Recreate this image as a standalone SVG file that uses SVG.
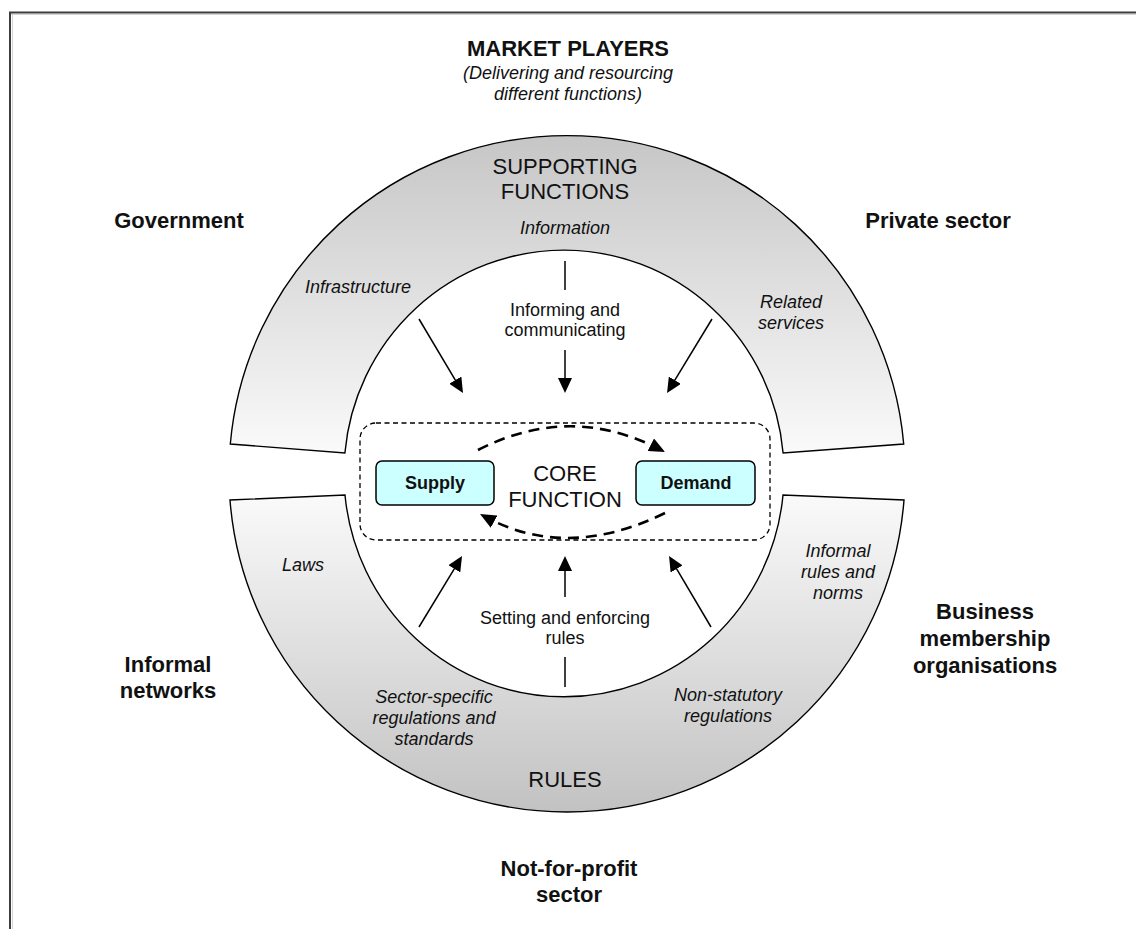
<svg xmlns="http://www.w3.org/2000/svg" width="1136" height="929" viewBox="0 0 1136 929">
<defs>
<style>
text{font-family:"Liberation Sans",Arial,sans-serif;fill:#111;text-anchor:middle}
.b{font-weight:bold;font-size:22px}
.h{font-size:22px}
.i{font-style:italic;font-size:18px}
.r{font-size:18px}
.bx{font-weight:bold;font-size:18px}
.ring{stroke:#000;stroke-width:1.4}
.arr{stroke:#000;stroke-width:1.5;fill:none;marker-end:url(#ah)}
.seg{stroke:#000;stroke-width:1.5}
.darr{stroke:#000;stroke-width:2.6;fill:none;stroke-dasharray:11 7;marker-end:url(#dh)}
</style>
<linearGradient id="gTop" x1="0" y1="0" x2="0" y2="1">
<stop offset="0" stop-color="#c6c6c6"/>
<stop offset="1" stop-color="#fafafa"/>
</linearGradient>
<linearGradient id="gBot" x1="0" y1="0" x2="0" y2="1">
<stop offset="0" stop-color="#fafafa"/>
<stop offset="1" stop-color="#c2c2c2"/>
</linearGradient>
<marker id="ah" markerUnits="userSpaceOnUse" markerWidth="16" markerHeight="14" refX="7" refY="7" orient="auto">
<path d="M0,0 L15,7 L0,14 Z" fill="#000"/>
</marker>
<marker id="dh" markerUnits="userSpaceOnUse" markerWidth="18" markerHeight="14" refX="10" refY="7" orient="auto">
<path d="M0,0 L16,7 L0,14 Z" fill="#000"/>
</marker>
</defs>
<rect width="1136" height="929" fill="#fff"/>
<g id="frame">
<line x1="9" y1="14.5" x2="1136" y2="14.5" stroke="#d4d4d4" stroke-width="1"/>
<line x1="12.5" y1="13" x2="12.5" y2="929" stroke="#d4d4d4" stroke-width="1"/>
<line x1="9" y1="12.5" x2="1136" y2="12.5" stroke="#3c3c3c" stroke-width="2"/>
<line x1="10" y1="12" x2="10" y2="929" stroke="#3c3c3c" stroke-width="2"/>
</g>
<g id="market-players">
<text class="b" x="568" y="56">MARKET PLAYERS</text>
<text class="i" x="568" y="79">(Delivering and resourcing</text>
<text class="i" x="568" y="100">different functions)</text>
</g>
<g id="supporting-functions">
<path class="ring" fill="url(#gTop)" d="M230.3,444 A338,338 0 0 1 903.7,444 L783.1,453 A220,223 0 0 0 344.9,453 Z"/>
<text class="h" x="565" y="174">SUPPORTING</text>
<text class="h" x="565" y="199">FUNCTIONS</text>
<text class="i" x="565" y="234">Information</text>
<text class="i" x="358" y="293">Infrastructure</text>
<text class="i" x="791" y="308">Related</text>
<text class="i" x="791" y="329">services</text>
</g>
<g id="rules">
<path class="ring" fill="url(#gBot)" d="M230,500 A338,338 0 0 0 904,500 L783,495 A220,223 0 0 1 345,495 Z"/>
<text class="i" x="303" y="571">Laws</text>
<text class="i" x="838" y="557">Informal</text>
<text class="i" x="838" y="578">rules and</text>
<text class="i" x="838" y="599">norms</text>
<text class="i" x="434" y="703">Sector-specific</text>
<text class="i" x="434" y="724">regulations and</text>
<text class="i" x="434" y="745">standards</text>
<text class="i" x="728" y="701">Non-statutory</text>
<text class="i" x="728" y="722">regulations</text>
<text class="h" x="565" y="787">RULES</text>
</g>
<g id="core-function">
<rect x="360" y="423" width="410" height="117" rx="16" ry="16" fill="none" stroke="#000" stroke-width="1.3" stroke-dasharray="5 3.5"/>
<text class="h" x="565" y="481">CORE</text>
<text class="h" x="565" y="507">FUNCTION</text>
</g>
<g id="supply">
<rect x="376" y="461" width="118" height="44" rx="6" ry="6" fill="#ccffff" stroke="#000" stroke-width="1.5"/>
<text class="bx" x="435" y="489">Supply</text>
</g>
<g id="demand">
<rect x="636" y="461" width="119" height="44" rx="6" ry="6" fill="#ccffff" stroke="#000" stroke-width="1.5"/>
<text class="bx" x="696" y="489">Demand</text>
</g>
<g id="process-labels">
<text class="r" x="565" y="316">Informing and</text>
<text class="r" x="565" y="336">communicating</text>
<text class="r" x="565" y="624">Setting and enforcing</text>
<text class="r" x="565" y="644">rules</text>
</g>
<g id="actors">
<text class="b" x="179" y="228">Government</text>
<text class="b" x="938" y="228">Private sector</text>
<text class="b" x="168" y="672">Informal</text>
<text class="b" x="168" y="698">networks</text>
<text class="b" x="985" y="619">Business</text>
<text class="b" x="985" y="646">membership</text>
<text class="b" x="985" y="673">organisations</text>
<text class="b" x="569" y="876">Not-for-profit</text>
<text class="b" x="569" y="902">sector</text>
</g>
<g id="connectors">
<line class="seg" x1="565" y1="261" x2="565" y2="290"/>
<line class="arr" x1="565" y1="350" x2="565" y2="385"/>
<line class="arr" x1="419" y1="319" x2="458.9" y2="386.1"/>
<line class="arr" x1="712" y1="319" x2="671.2" y2="386.2"/>
<line class="seg" x1="565" y1="657" x2="565" y2="687"/>
<line class="arr" x1="565" y1="597" x2="565" y2="564"/>
<line class="arr" x1="419" y1="627" x2="457.9" y2="562.8"/>
<line class="arr" x1="711" y1="627" x2="673.1" y2="562.9"/>
<path class="darr" d="M478,450 Q570,403 659.7,449.3"/>
<path class="darr" d="M665,513 Q567,561 485.3,516.85"/>
</g>
</svg>
